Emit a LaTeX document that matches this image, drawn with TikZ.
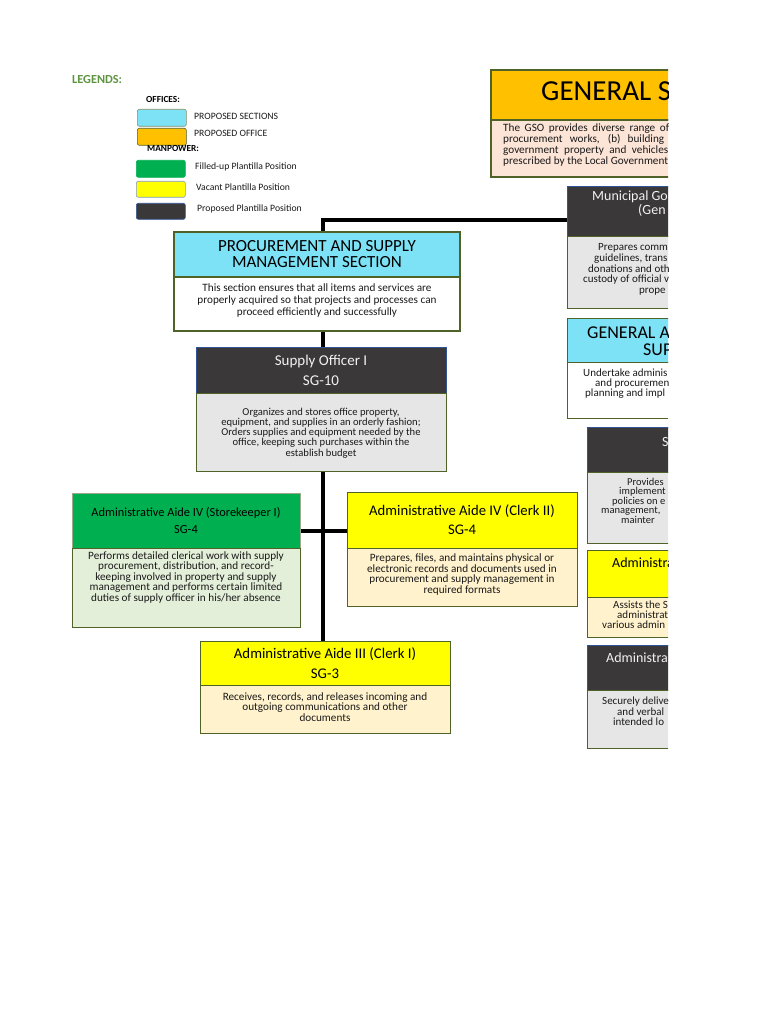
\documentclass[tikz,border=0pt]{standalone}
\usepackage{fontspec}
\setmainfont{Carlito}
\usetikzlibrary{calc}
\definecolor{cyanS}{HTML}{7DE2F6}
\definecolor{orangeO}{HTML}{FFC000}
\definecolor{greenF}{HTML}{00B050}
\definecolor{yellowV}{HTML}{FFFF00}
\definecolor{darkP}{HTML}{3A3838}
\definecolor{grayB}{HTML}{E7E6E6}
\definecolor{lgreenB}{HTML}{E4EFDA}
\definecolor{lyellowB}{HTML}{FFF2CC}
\definecolor{peachB}{HTML}{FCE4D6}
\definecolor{bgreen}{HTML}{4F6228}
\definecolor{bblue}{HTML}{2F5597}
\definecolor{legG}{HTML}{5E9340}
\definecolor{txt}{HTML}{1A1A1A}
\definecolor{titW}{HTML}{F2F2F2}
\pgfdeclarelayer{background}
\pgfsetlayers{background,main}
\tikzset{
  cell/.style={anchor=north west, inner sep=0pt, outer sep=0pt, align=center, line width=0.8pt},
  conn/.style={line width=4.8pt, black, line join=miter},
  tx/.style={anchor=north, inner sep=0pt, align=center, text=txt},
  frag/.style={anchor=base west, inner sep=0pt},
  legbox/.style={anchor=north west, minimum width=49pt, rounded corners=2pt, line width=0.6pt, inner sep=0pt},
  legtxt/.style={anchor=base west, inner sep=0pt, text=black!90, font=\fontsize{9.7}{11}\selectfont},
  leghead/.style={anchor=base west, inner sep=0pt, text=black, font=\bfseries\fontsize{9.3}{11}\selectfont},
}
\begin{document}
\begin{tikzpicture}[x=1pt,y=-1pt]
\useasboundingbox (0,0) rectangle (768,1024);

% ---------- legend ----------
\node[anchor=base west, inner sep=0pt, text=legG, font=\bfseries\fontsize{12.3}{14}\selectfont] (legtitle) at (72,84) {LEGENDS:};
\node[leghead] (offices) at (146,103) {OFFICES:};
\node[legbox, minimum height=17pt, fill=cyanS, draw=bgreen!70] (lcyan) at (137,109) {};
\node[legtxt] (tcyan) at (194,120) {PROPOSED SECTIONS};
\node[legbox, minimum height=17pt, fill=orangeO, draw=bgreen] (lorange) at (137,128) {};
\node[legtxt] (torange) at (194,137) {PROPOSED OFFICE};
\node[leghead] (manpower) at (147,152) {MANPOWER:};
\node[legbox, minimum height=17pt, fill=greenF, draw=greenF] (lgreen) at (136,160) {};
\node[legtxt] (tgreen) at (195,170) {Filled-up Plantilla Position};
\node[legbox, minimum height=16pt, fill=yellowV, draw=bblue!60] (lyellow) at (136,181) {};
\node[legtxt] (tyellow) at (196,191) {Vacant Plantilla Position};
\node[legbox, minimum height=16pt, fill=darkP, draw=bblue] (ldark) at (136,203) {};
\node[legtxt] (tdark) at (197,212) {Proposed Plantilla Position};

% ---------- right column (cut at the page edge) ----------
\begin{scope}
\clip (0,0) rectangle (668,1024);
% GSO
\node[cell, fill=orangeO, draw=bgreen, line width=1.2pt, minimum width=300pt, minimum height=50pt] (gsoH) at (491,70) {};
\node[cell, fill=peachB, draw=bgreen, line width=1.2pt, minimum width=300pt, minimum height=57pt] (gsoB) at (491,120) {};
\node[frag, font=\fontsize{29}{30}\selectfont] (gsoT) at (541,101) {GENERAL S};
\node[frag, text=txt, font=\fontsize{11.2}{12}\selectfont] (gso1) at (503,131.8) {\makebox[166pt][s]{The GSO provides diverse range of}};
\node[frag, text=txt, font=\fontsize{11.2}{12}\selectfont] (gso2) at (503,142.6) {\makebox[161pt][s]{procurement works, (b) building}};
\node[frag, text=txt, font=\fontsize{11.2}{12}\selectfont] (gso3) at (503,153.4) {\makebox[165pt][s]{government property and vehicles}};
\node[frag, text=txt, font=\fontsize{11.2}{12}\selectfont] (gso4) at (503,164.2) {prescribed by the Local Government};
% Municipal
\node[cell, fill=darkP, draw=bblue, minimum width=220pt, minimum height=50pt] (munH) at (567,186) {};
\node[cell, fill=grayB, draw=bgreen, minimum width=220pt, minimum height=72pt] (munB) at (567,236) {};
\node[frag, text=titW, font=\fontsize{14}{16}\selectfont] (mun1) at (592,200.5) {Municipal Gov};
\node[frag, text=titW, font=\fontsize{14}{16}\selectfont] (mun2) at (638,214.5) {(Gen};
\node[frag, text=txt, font=\fontsize{11}{12}\selectfont] (munb1) at (598,250.5) {Prepares comm};
\node[frag, text=txt, font=\fontsize{11}{12}\selectfont] (munb2) at (594,261.5) {guidelines, trans};
\node[frag, text=txt, font=\fontsize{11}{12}\selectfont] (munb3) at (588,272) {donations and oth};
\node[frag, text=txt, font=\fontsize{11}{12}\selectfont] (munb4) at (583,282.5) {custody of official v};
\node[frag, text=txt, font=\fontsize{11}{12}\selectfont] (munb5) at (639,293) {prope};
% General administrative support
\node[cell, fill=cyanS, draw=bgreen, minimum width=220pt, minimum height=44pt] (gasH) at (567,318) {};
\node[cell, fill=white, draw=bgreen, minimum width=220pt, minimum height=56pt] (gasB) at (567,362) {};
\node[frag, font=\fontsize{18}{20}\selectfont] (gas1) at (587,338.8) {GENERAL A};
\node[frag, font=\fontsize{18}{20}\selectfont] (gas2) at (643,355.8) {SUP};
\node[frag, text=txt, font=\fontsize{11}{12}\selectfont] (gasb1) at (583,376.5) {Undertake adminis};
\node[frag, text=txt, font=\fontsize{11}{12}\selectfont] (gasb2) at (595,386.5) {and procuremen};
\node[frag, text=txt, font=\fontsize{11}{12}\selectfont] (gasb3) at (585,396.5) {planning and impl};
% S box
\node[cell, fill=darkP, draw=bblue, minimum width=200pt, minimum height=45pt] (sH) at (587,427) {};
\node[cell, fill=grayB, draw=bgreen, minimum width=200pt, minimum height=71pt] (sB) at (587,472) {};
\node[frag, text=titW, font=\fontsize{14}{16}\selectfont] (s1) at (662,446.5) {S};
\node[frag, text=txt, font=\fontsize{10.5}{12}\selectfont] (sb1) at (627,485.3) {Provides};
\node[frag, text=txt, font=\fontsize{10.5}{12}\selectfont] (sb2) at (619,494.8) {implement};
\node[frag, text=txt, font=\fontsize{10.5}{12}\selectfont] (sb3) at (612,504.3) {policies on e};
\node[frag, text=txt, font=\fontsize{10.5}{12}\selectfont] (sb4) at (601,513.8) {management,};
\node[frag, text=txt, font=\fontsize{10.5}{12}\selectfont] (sb5) at (621,523.3) {mainter};
% Yellow administrative
\node[cell, fill=yellowV, draw=bgreen, minimum width=200pt, minimum height=47pt] (yaH) at (587,550) {};
\node[cell, fill=lyellowB, draw=bgreen, minimum width=200pt, minimum height=40pt] (yaB) at (587,597) {};
\node[frag, font=\fontsize{14}{16}\selectfont] (ya1) at (612,567.5) {Administra};
\node[frag, text=txt, font=\fontsize{11}{12}\selectfont] (yab1) at (613,608.5) {Assists the S};
\node[frag, text=txt, font=\fontsize{11}{12}\selectfont] (yab2) at (617,618.5) {administrat};
\node[frag, text=txt, font=\fontsize{11}{12}\selectfont] (yab3) at (602,628.5) {various admin};
% Dark administrative
\node[cell, fill=darkP, draw=bblue, minimum width=200pt, minimum height=45pt] (daH) at (587,645) {};
\node[cell, fill=grayB, draw=bgreen, minimum width=200pt, minimum height=58pt] (daB) at (587,690) {};
\node[frag, text=titW, font=\fontsize{14}{16}\selectfont] (da1) at (606,662.5) {Administra};
\node[frag, text=txt, font=\fontsize{11}{12}\selectfont] (dab1) at (602,704.5) {Securely delive};
\node[frag, text=txt, font=\fontsize{11}{12}\selectfont] (dab2) at (617,715.5) {and verbal};
\node[frag, text=txt, font=\fontsize{11}{12}\selectfont] (dab3) at (613,725.5) {intended lo};
\end{scope}

% ---------- Procurement and Supply Management Section ----------
\node[cell, fill=cyanS, draw=bgreen, line width=1.3pt, minimum width=286pt, minimum height=45pt, font=\fontsize{17}{16}\selectfont] (psmsH) at (174,232) {PROCUREMENT AND SUPPLY\\MANAGEMENT SECTION};
\node[cell, fill=white, draw=bgreen, line width=1.3pt, minimum width=286pt, minimum height=54pt] (psmsB) at (174,277) {};
\node[tx, font=\fontsize{11.2}{12}\selectfont] (psmsT) at (317,283.3) {This section ensures that all items and services are\\properly acquired so that projects and processes can\\proceed efficiently and successfully};

% Supply Officer I
\node[cell, fill=darkP, draw=bblue, text=titW, minimum width=250pt, minimum height=46pt, font=\fontsize{15}{20}\selectfont] (soH) at (196,347) {Supply Officer I\\SG-10};
\node[cell, fill=grayB, draw=bgreen, minimum width=250pt, minimum height=78pt] (soB) at (196,393) {};
\node[tx, font=\fontsize{10.6}{10.25}\selectfont] (soT) at (321,407.6) {Organizes and stores office property,\\equipment, and supplies in an orderly fashion;\\Orders supplies and equipment needed by the\\office, keeping such purchases within the\\establish budget};

% Storekeeper
\node[cell, fill=greenF, draw=bgreen!55, minimum width=228pt, minimum height=55pt, font=\fontsize{12.4}{17}\selectfont] (skH) at (72,493) {Administrative Aide IV (Storekeeper I)\\SG-4};
\node[cell, fill=lgreenB, draw=bgreen, minimum width=228pt, minimum height=79pt] (skB) at (72,548) {};
\node[tx, font=\fontsize{11.2}{10.5}\selectfont] (skT) at (186,551.4) {Performs detailed clerical work with supply\\procurement, distribution, and record-\\keeping involved in property and supply\\management and performs certain limited\\duties of supply officer in his/her absence};

% Clerk II
\node[cell, fill=yellowV, draw=bgreen, minimum width=230pt, minimum height=56pt, font=\fontsize{14.7}{19}\selectfont] (c2H) at (347,492) {Administrative Aide IV (Clerk II)\\SG-4};
\node[cell, fill=lyellowB, draw=bgreen, minimum width=230pt, minimum height=58pt] (c2B) at (347,548) {};
\node[tx, font=\fontsize{11.2}{10.7}\selectfont] (c2T) at (462,553.4) {Prepares, files, and maintains physical or\\electronic records and documents used in\\procurement and supply management in\\required formats};

% Clerk I
\node[cell, fill=yellowV, draw=bgreen, minimum width=250pt, minimum height=44pt, font=\fontsize{14.8}{20}\selectfont] (c1H) at (200,641) {Administrative Aide III (Clerk I)\\SG-3};
\node[cell, fill=lyellowB, draw=bgreen, minimum width=250pt, minimum height=48pt] (c1B) at (200,685) {};
\node[tx, font=\fontsize{11.2}{10.6}\selectfont] (c1T) at (325,692.4) {Receives, records, and releases incoming and\\outgoing communications and other\\documents};

% ---------- connectors ----------
\coordinate (j) at (323,220);
\coordinate (m) at (323,531);
\begin{pgfonlayer}{background}
\draw[conn] (j -| munH.west) -- (j) -- (j |- c1H.north);
\draw[conn] (m -| skH.east) -- (m -| c2H.west);
\end{pgfonlayer}
\end{tikzpicture}
\end{document}
